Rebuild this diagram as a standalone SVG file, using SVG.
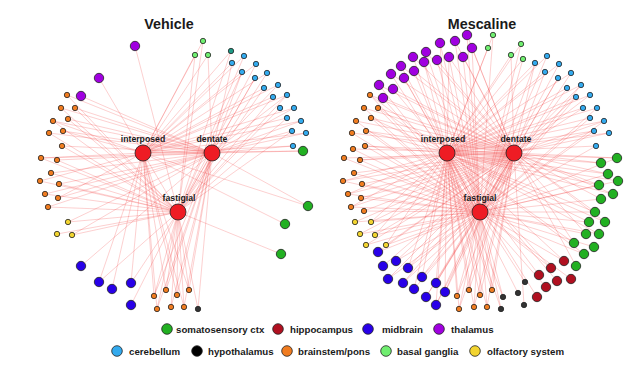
<svg xmlns="http://www.w3.org/2000/svg" width="638" height="377" viewBox="0 0 638 377">
<style>
text{font-family:"Liberation Sans",Arial,sans-serif;font-weight:bold;fill:#1a1a1a}
.title{font-size:14.3px;text-anchor:middle}
.hl{font-size:8.7px;text-anchor:middle}
.lg{font-size:9.7px}
#edges path{stroke:#f03030;stroke-opacity:0.33;stroke-width:0.7;fill:none}
circle{stroke:#222;stroke-width:0.8}
.hub{fill:#ee1c24}
.th{fill:#a000e0}
.bg{fill:#70ee70}
.cb{fill:#33aaee}
.tl{fill:#1e9a86}
.ss{fill:#22b022}
.hc{fill:#b01020}
.mb{fill:#2800e8}
.bp{fill:#f07c20}
.ol{fill:#f2d430}
.hy{fill:#333}
</style>
<rect width="638" height="377" fill="#fff"/>
<text class="title" x="169" y="29">Vehicle</text>
<text class="title" x="482" y="29">Mescaline</text>
<g id="edges">
<g id="v-edges-hubs">
<path d="M143 153L212 153"/><path d="M143 153L178 212"/><path d="M212 153L178 212"/>
</g>
<g id="v-edges-interposed">
<path d="M143 153L99 78"/><path d="M143 153L203 41"/><path d="M143 153L195 55"/><path d="M143 153L208 55"/><path d="M143 153L231 51"/><path d="M143 153L244 56"/><path d="M143 153L232 63"/><path d="M143 153L256 64"/><path d="M143 153L242 72"/><path d="M143 153L267 73"/><path d="M143 153L278 85"/><path d="M143 153L264 88"/><path d="M143 153L287 95"/><path d="M143 153L273 97"/><path d="M143 153L294 108"/><path d="M143 153L301 121"/><path d="M143 153L287 118"/><path d="M143 153L306 133"/><path d="M143 153L293 146"/><path d="M143 153L303 151"/><path d="M143 153L308 206"/><path d="M143 153L285 224"/><path d="M143 153L53 121"/><path d="M143 153L63 131"/><path d="M143 153L41 158"/><path d="M143 153L40 181"/><path d="M143 153L58 198"/><path d="M143 153L99 282"/><path d="M143 153L112 289"/><path d="M143 153L131 283"/><path d="M143 153L154 296"/><path d="M143 153L166 290"/><path d="M143 153L177 295"/><path d="M143 153L189 290"/><path d="M143 153L157 309"/><path d="M143 153L184 307"/>
</g>
<g id="v-edges-dentate">
<path d="M212 153L81 96"/><path d="M212 153L208 55"/><path d="M212 153L232 63"/><path d="M212 153L242 72"/><path d="M212 153L255 78"/><path d="M212 153L278 85"/><path d="M212 153L287 95"/><path d="M212 153L294 108"/><path d="M212 153L301 121"/><path d="M212 153L306 133"/><path d="M212 153L292 131"/><path d="M212 153L293 146"/><path d="M212 153L303 151"/><path d="M212 153L308 206"/><path d="M212 153L67 95"/><path d="M212 153L61 108"/><path d="M212 153L75 108"/><path d="M212 153L53 121"/><path d="M212 153L68 119"/><path d="M212 153L49 133"/><path d="M212 153L63 131"/><path d="M212 153L62 146"/><path d="M212 153L41 158"/><path d="M212 153L57 160"/><path d="M212 153L51 173"/><path d="M212 153L59 184"/><path d="M212 153L45 194"/><path d="M212 153L58 198"/><path d="M212 153L48 207"/><path d="M212 153L68 222"/><path d="M212 153L72 235"/><path d="M212 153L81 266"/><path d="M212 153L154 296"/><path d="M212 153L166 290"/><path d="M212 153L177 295"/><path d="M212 153L189 290"/><path d="M212 153L157 309"/><path d="M212 153L171 307"/><path d="M212 153L184 307"/><path d="M212 153L198 309"/>
</g>
<g id="v-edges-fastigial">
<path d="M178 212L135 46"/><path d="M178 212L203 41"/><path d="M178 212L195 55"/><path d="M178 212L231 51"/><path d="M178 212L244 56"/><path d="M178 212L256 64"/><path d="M178 212L242 72"/><path d="M178 212L267 73"/><path d="M178 212L255 78"/><path d="M178 212L264 88"/><path d="M178 212L287 95"/><path d="M178 212L273 97"/><path d="M178 212L280 108"/><path d="M178 212L287 118"/><path d="M178 212L292 131"/><path d="M178 212L281 254"/><path d="M178 212L67 95"/><path d="M178 212L61 108"/><path d="M178 212L75 108"/><path d="M178 212L53 121"/><path d="M178 212L68 119"/><path d="M178 212L49 133"/><path d="M178 212L62 146"/><path d="M178 212L41 158"/><path d="M178 212L57 160"/><path d="M178 212L51 173"/><path d="M178 212L40 181"/><path d="M178 212L59 184"/><path d="M178 212L45 194"/><path d="M178 212L48 207"/><path d="M178 212L68 222"/><path d="M178 212L57 234"/><path d="M178 212L72 235"/><path d="M178 212L99 282"/><path d="M178 212L131 283"/><path d="M178 212L131 305"/><path d="M178 212L154 296"/><path d="M178 212L166 290"/><path d="M178 212L177 295"/><path d="M178 212L189 290"/><path d="M178 212L157 309"/><path d="M178 212L171 307"/><path d="M178 212L184 307"/><path d="M178 212L198 309"/>
</g>
<g id="m-edges-hubs">
<path d="M447 153L514 153"/><path d="M447 153L480 212"/><path d="M514 153L480 212"/>
</g>
<g id="m-edges-interposed">
<path d="M447 153L440 43"/><path d="M447 153L413 57"/><path d="M447 153L449 57"/><path d="M447 153L424 62"/><path d="M447 153L414 71"/><path d="M447 153L404 78"/><path d="M447 153L393 89"/><path d="M447 153L493 35"/><path d="M447 153L488 48"/><path d="M447 153L521 44"/><path d="M447 153L511 55"/><path d="M447 153L523 59"/><path d="M447 153L547 56"/><path d="M447 153L535 63"/><path d="M447 153L559 64"/><path d="M447 153L545 72"/><path d="M447 153L571 73"/><path d="M447 153L581 85"/><path d="M447 153L567 88"/><path d="M447 153L590 95"/><path d="M447 153L576 97"/><path d="M447 153L597 108"/><path d="M447 153L583 108"/><path d="M447 153L604 121"/><path d="M447 153L590 118"/><path d="M447 153L609 133"/><path d="M447 153L594 131"/><path d="M447 153L596 146"/><path d="M447 153L617 158"/><path d="M447 153L601 163"/><path d="M447 153L608 174"/><path d="M447 153L618 181"/><path d="M447 153L599 185"/><path d="M447 153L613 194"/><path d="M447 153L595 212"/><path d="M447 153L589 222"/><path d="M447 153L605 222"/><path d="M447 153L599 234"/><path d="M447 153L574 243"/><path d="M447 153L584 254"/><path d="M447 153L564 261"/><path d="M447 153L551 268"/><path d="M447 153L539 275"/><path d="M447 153L557 281"/><path d="M447 153L537 297"/><path d="M447 153L518 293"/><path d="M447 153L503 297"/><path d="M447 153L501 309"/><path d="M447 153L457 296"/><path d="M447 153L469 290"/><path d="M447 153L480 295"/><path d="M447 153L492 290"/><path d="M447 153L459 309"/><path d="M447 153L474 307"/><path d="M447 153L487 307"/><path d="M447 153L408 268"/><path d="M447 153L422 277"/><path d="M447 153L436 283"/><path d="M447 153L414 289"/><path d="M447 153L445 292"/><path d="M447 153L436 305"/><path d="M447 153L371 222"/><path d="M447 153L375 235"/><path d="M447 153L386 245"/><path d="M447 153L370 95"/><path d="M447 153L378 108"/><path d="M447 153L371 118"/><path d="M447 153L366 131"/><path d="M447 153L365 146"/><path d="M447 153L360 160"/><path d="M447 153L343 181"/><path d="M447 153L348 194"/><path d="M447 153L351 207"/>
</g>
<g id="m-edges-dentate">
<path d="M514 153L467 35"/><path d="M514 153L455 41"/><path d="M514 153L472 48"/><path d="M514 153L426 52"/><path d="M514 153L413 57"/><path d="M514 153L463 57"/><path d="M514 153L449 57"/><path d="M514 153L437 60"/><path d="M514 153L401 66"/><path d="M514 153L414 71"/><path d="M514 153L391 74"/><path d="M514 153L379 85"/><path d="M514 153L393 89"/><path d="M514 153L383 98"/><path d="M514 153L511 55"/><path d="M514 153L535 63"/><path d="M514 153L545 72"/><path d="M514 153L558 78"/><path d="M514 153L581 85"/><path d="M514 153L590 95"/><path d="M514 153L576 97"/><path d="M514 153L583 108"/><path d="M514 153L604 121"/><path d="M514 153L609 133"/><path d="M514 153L594 131"/><path d="M514 153L617 158"/><path d="M514 153L601 163"/><path d="M514 153L608 174"/><path d="M514 153L599 185"/><path d="M514 153L613 194"/><path d="M514 153L601 199"/><path d="M514 153L595 212"/><path d="M514 153L605 222"/><path d="M514 153L586 234"/><path d="M514 153L574 243"/><path d="M514 153L576 266"/><path d="M514 153L524 305"/><path d="M514 153L457 296"/><path d="M514 153L469 290"/><path d="M514 153L480 295"/><path d="M514 153L492 290"/><path d="M514 153L459 309"/><path d="M514 153L474 307"/><path d="M514 153L487 307"/><path d="M514 153L378 252"/><path d="M514 153L396 261"/><path d="M514 153L383 266"/><path d="M514 153L408 268"/><path d="M514 153L388 279"/><path d="M514 153L422 277"/><path d="M514 153L403 283"/><path d="M514 153L436 283"/><path d="M514 153L445 292"/><path d="M514 153L426 297"/><path d="M514 153L436 305"/><path d="M514 153L355 222"/><path d="M514 153L371 222"/><path d="M514 153L360 234"/><path d="M514 153L375 235"/><path d="M514 153L366 245"/><path d="M514 153L386 245"/><path d="M514 153L370 95"/><path d="M514 153L364 108"/><path d="M514 153L378 108"/><path d="M514 153L356 121"/><path d="M514 153L371 118"/><path d="M514 153L352 133"/><path d="M514 153L366 131"/><path d="M514 153L353 149"/><path d="M514 153L365 146"/><path d="M514 153L344 158"/><path d="M514 153L360 160"/><path d="M514 153L354 173"/><path d="M514 153L343 181"/><path d="M514 153L362 184"/><path d="M514 153L348 194"/><path d="M514 153L361 198"/><path d="M514 153L351 207"/><path d="M514 153L364 211"/>
</g>
<g id="m-edges-fastigial">
<path d="M480 212L467 35"/><path d="M480 212L455 41"/><path d="M480 212L440 43"/><path d="M480 212L472 48"/><path d="M480 212L426 52"/><path d="M480 212L463 57"/><path d="M480 212L449 57"/><path d="M480 212L437 60"/><path d="M480 212L424 62"/><path d="M480 212L401 66"/><path d="M480 212L391 74"/><path d="M480 212L404 78"/><path d="M480 212L379 85"/><path d="M480 212L383 98"/><path d="M480 212L493 35"/><path d="M480 212L521 44"/><path d="M480 212L523 59"/><path d="M480 212L547 56"/><path d="M480 212L535 63"/><path d="M480 212L559 64"/><path d="M480 212L571 73"/><path d="M480 212L558 78"/><path d="M480 212L581 85"/><path d="M480 212L567 88"/><path d="M480 212L576 97"/><path d="M480 212L597 108"/><path d="M480 212L604 121"/><path d="M480 212L590 118"/><path d="M480 212L594 131"/><path d="M480 212L596 146"/><path d="M480 212L617 158"/><path d="M480 212L608 174"/><path d="M480 212L618 181"/><path d="M480 212L599 185"/><path d="M480 212L601 199"/><path d="M480 212L595 212"/><path d="M480 212L589 222"/><path d="M480 212L586 234"/><path d="M480 212L599 234"/><path d="M480 212L594 247"/><path d="M480 212L584 254"/><path d="M480 212L564 261"/><path d="M480 212L551 268"/><path d="M480 212L571 279"/><path d="M480 212L546 287"/><path d="M480 212L525 282"/><path d="M480 212L503 297"/><path d="M480 212L501 309"/><path d="M480 212L457 296"/><path d="M480 212L469 290"/><path d="M480 212L480 295"/><path d="M480 212L492 290"/><path d="M480 212L459 309"/><path d="M480 212L474 307"/><path d="M480 212L487 307"/><path d="M480 212L378 252"/><path d="M480 212L396 261"/><path d="M480 212L408 268"/><path d="M480 212L388 279"/><path d="M480 212L422 277"/><path d="M480 212L403 283"/><path d="M480 212L436 283"/><path d="M480 212L414 289"/><path d="M480 212L445 292"/><path d="M480 212L426 297"/><path d="M480 212L436 305"/><path d="M480 212L355 222"/><path d="M480 212L371 222"/><path d="M480 212L360 234"/><path d="M480 212L375 235"/><path d="M480 212L366 245"/><path d="M480 212L386 245"/><path d="M480 212L370 95"/><path d="M480 212L364 108"/><path d="M480 212L378 108"/><path d="M480 212L356 121"/><path d="M480 212L371 118"/><path d="M480 212L352 133"/><path d="M480 212L366 131"/><path d="M480 212L353 149"/><path d="M480 212L365 146"/><path d="M480 212L344 158"/><path d="M480 212L360 160"/><path d="M480 212L354 173"/><path d="M480 212L343 181"/><path d="M480 212L362 184"/><path d="M480 212L348 194"/><path d="M480 212L361 198"/><path d="M480 212L351 207"/><path d="M480 212L364 211"/>
</g>
</g>
<g id="vehicle-nodes">
<g id="v-th1"><circle class="th" cx="135" cy="46" r="4.7"/></g>
<g id="v-th2"><circle class="th" cx="99" cy="78" r="4.7"/></g>
<g id="v-th3"><circle class="th" cx="81" cy="96" r="4.7"/></g>
<g id="v-bg1"><circle class="bg" cx="203" cy="41" r="2.7"/></g>
<g id="v-bg2"><circle class="bg" cx="195" cy="55" r="2.7"/></g>
<g id="v-bg3"><circle class="bg" cx="208" cy="55" r="2.7"/></g>
<g id="v-cb0"><circle class="tl" cx="231" cy="51" r="2.7"/></g>
<g id="v-cb1"><circle class="cb" cx="244" cy="56" r="2.7"/></g>
<g id="v-cb2"><circle class="cb" cx="232" cy="63" r="2.7"/></g>
<g id="v-cb3"><circle class="cb" cx="256" cy="64" r="2.7"/></g>
<g id="v-cb4"><circle class="cb" cx="242" cy="72" r="2.7"/></g>
<g id="v-cb5"><circle class="cb" cx="267" cy="73" r="2.7"/></g>
<g id="v-cb6"><circle class="cb" cx="255" cy="78" r="2.7"/></g>
<g id="v-cb7"><circle class="cb" cx="278" cy="85" r="2.7"/></g>
<g id="v-cb8"><circle class="cb" cx="264" cy="88" r="2.7"/></g>
<g id="v-cb9"><circle class="cb" cx="287" cy="95" r="2.7"/></g>
<g id="v-cb10"><circle class="cb" cx="273" cy="97" r="2.7"/></g>
<g id="v-cb11"><circle class="cb" cx="294" cy="108" r="2.7"/></g>
<g id="v-cb12"><circle class="cb" cx="280" cy="108" r="2.7"/></g>
<g id="v-cb13"><circle class="cb" cx="301" cy="121" r="2.7"/></g>
<g id="v-cb14"><circle class="cb" cx="287" cy="118" r="2.7"/></g>
<g id="v-cb15"><circle class="cb" cx="306" cy="133" r="2.7"/></g>
<g id="v-cb16"><circle class="cb" cx="292" cy="131" r="2.7"/></g>
<g id="v-cb17"><circle class="cb" cx="293" cy="146" r="2.7"/></g>
<g id="v-ss1"><circle class="ss" cx="303" cy="151" r="4.7"/></g>
<g id="v-ss2"><circle class="ss" cx="308" cy="206" r="4.7"/></g>
<g id="v-ss3"><circle class="ss" cx="285" cy="224" r="4.7"/></g>
<g id="v-ss4"><circle class="ss" cx="281" cy="254" r="4.7"/></g>
<g id="v-bp1"><circle class="bp" cx="67" cy="95" r="2.7"/></g>
<g id="v-bp2"><circle class="bp" cx="61" cy="108" r="2.7"/></g>
<g id="v-bp3"><circle class="bp" cx="75" cy="108" r="2.7"/></g>
<g id="v-bp4"><circle class="bp" cx="53" cy="121" r="2.7"/></g>
<g id="v-bp5"><circle class="bp" cx="68" cy="119" r="2.7"/></g>
<g id="v-bp6"><circle class="bp" cx="49" cy="133" r="2.7"/></g>
<g id="v-bp7"><circle class="bp" cx="63" cy="131" r="2.7"/></g>
<g id="v-bp8"><circle class="bp" cx="62" cy="146" r="2.7"/></g>
<g id="v-bp9"><circle class="bp" cx="41" cy="158" r="2.7"/></g>
<g id="v-bp10"><circle class="bp" cx="57" cy="160" r="2.7"/></g>
<g id="v-bp11"><circle class="bp" cx="51" cy="173" r="2.7"/></g>
<g id="v-bp12"><circle class="bp" cx="40" cy="181" r="2.7"/></g>
<g id="v-bp13"><circle class="bp" cx="59" cy="184" r="2.7"/></g>
<g id="v-bp14"><circle class="bp" cx="45" cy="194" r="2.7"/></g>
<g id="v-bp15"><circle class="bp" cx="58" cy="198" r="2.7"/></g>
<g id="v-bp16"><circle class="bp" cx="48" cy="207" r="2.7"/></g>
<g id="v-ol1"><circle class="ol" cx="68" cy="222" r="2.7"/></g>
<g id="v-ol2"><circle class="ol" cx="57" cy="234" r="2.7"/></g>
<g id="v-ol3"><circle class="ol" cx="72" cy="235" r="2.7"/></g>
<g id="v-mb1"><circle class="mb" cx="81" cy="266" r="4.7"/></g>
<g id="v-mb2"><circle class="mb" cx="99" cy="282" r="4.7"/></g>
<g id="v-mb3"><circle class="mb" cx="112" cy="289" r="4.7"/></g>
<g id="v-mb4"><circle class="mb" cx="131" cy="283" r="4.7"/></g>
<g id="v-mb5"><circle class="mb" cx="131" cy="305" r="4.7"/></g>
<g id="v-bp17"><circle class="bp" cx="154" cy="296" r="2.7"/></g>
<g id="v-bp18"><circle class="bp" cx="166" cy="290" r="2.7"/></g>
<g id="v-bp19"><circle class="bp" cx="177" cy="295" r="2.7"/></g>
<g id="v-bp20"><circle class="bp" cx="189" cy="290" r="2.7"/></g>
<g id="v-bp21"><circle class="bp" cx="157" cy="309" r="2.7"/></g>
<g id="v-bp22"><circle class="bp" cx="171" cy="307" r="2.7"/></g>
<g id="v-bp23"><circle class="bp" cx="184" cy="307" r="2.7"/></g>
<g id="v-hy1"><circle class="hy" cx="198" cy="309" r="2.7"/></g>
<g id="v-interposed"><circle class="hub" cx="143" cy="153" r="8"/><text class="hl" x="143" y="142">interposed</text></g>
<g id="v-dentate"><circle class="hub" cx="212" cy="153" r="8"/><text class="hl" x="212" y="142">dentate</text></g>
<g id="v-fastigial"><circle class="hub" cx="178" cy="212" r="8"/><text class="hl" x="179" y="201">fastigial</text></g>
</g>
<g id="mescaline-nodes">
<g id="m-th1"><circle class="th" cx="467" cy="35" r="4.7"/></g>
<g id="m-th2"><circle class="th" cx="455" cy="41" r="4.7"/></g>
<g id="m-th3"><circle class="th" cx="440" cy="43" r="4.7"/></g>
<g id="m-th4"><circle class="th" cx="472" cy="48" r="4.7"/></g>
<g id="m-th5"><circle class="th" cx="426" cy="52" r="4.7"/></g>
<g id="m-th6"><circle class="th" cx="413" cy="57" r="4.7"/></g>
<g id="m-th7"><circle class="th" cx="463" cy="57" r="4.7"/></g>
<g id="m-th8"><circle class="th" cx="449" cy="57" r="4.7"/></g>
<g id="m-th9"><circle class="th" cx="437" cy="60" r="4.7"/></g>
<g id="m-th10"><circle class="th" cx="424" cy="62" r="4.7"/></g>
<g id="m-th11"><circle class="th" cx="401" cy="66" r="4.7"/></g>
<g id="m-th12"><circle class="th" cx="414" cy="71" r="4.7"/></g>
<g id="m-th13"><circle class="th" cx="391" cy="74" r="4.7"/></g>
<g id="m-th14"><circle class="th" cx="404" cy="78" r="4.7"/></g>
<g id="m-th15"><circle class="th" cx="379" cy="85" r="4.7"/></g>
<g id="m-th16"><circle class="th" cx="393" cy="89" r="4.7"/></g>
<g id="m-th17"><circle class="th" cx="383" cy="98" r="4.7"/></g>
<g id="m-bg1"><circle class="bg" cx="493" cy="35" r="2.7"/></g>
<g id="m-bg2"><circle class="bg" cx="488" cy="48" r="2.7"/></g>
<g id="m-bg3"><circle class="bg" cx="521" cy="44" r="2.7"/></g>
<g id="m-bg4"><circle class="bg" cx="511" cy="55" r="2.7"/></g>
<g id="m-bg5"><circle class="bg" cx="523" cy="59" r="2.7"/></g>
<g id="m-cb1"><circle class="cb" cx="547" cy="56" r="2.7"/></g>
<g id="m-cb2"><circle class="cb" cx="535" cy="63" r="2.7"/></g>
<g id="m-cb3"><circle class="cb" cx="559" cy="64" r="2.7"/></g>
<g id="m-cb4"><circle class="cb" cx="545" cy="72" r="2.7"/></g>
<g id="m-cb5"><circle class="cb" cx="571" cy="73" r="2.7"/></g>
<g id="m-cb6"><circle class="cb" cx="558" cy="78" r="2.7"/></g>
<g id="m-cb7"><circle class="cb" cx="581" cy="85" r="2.7"/></g>
<g id="m-cb8"><circle class="cb" cx="567" cy="88" r="2.7"/></g>
<g id="m-cb9"><circle class="cb" cx="590" cy="95" r="2.7"/></g>
<g id="m-cb10"><circle class="cb" cx="576" cy="97" r="2.7"/></g>
<g id="m-cb11"><circle class="cb" cx="597" cy="108" r="2.7"/></g>
<g id="m-cb12"><circle class="cb" cx="583" cy="108" r="2.7"/></g>
<g id="m-cb13"><circle class="cb" cx="604" cy="121" r="2.7"/></g>
<g id="m-cb14"><circle class="cb" cx="590" cy="118" r="2.7"/></g>
<g id="m-cb15"><circle class="cb" cx="609" cy="133" r="2.7"/></g>
<g id="m-cb16"><circle class="cb" cx="594" cy="131" r="2.7"/></g>
<g id="m-cb17"><circle class="cb" cx="596" cy="146" r="2.7"/></g>
<g id="m-ss1"><circle class="ss" cx="617" cy="158" r="4.7"/></g>
<g id="m-ss2"><circle class="ss" cx="601" cy="163" r="4.7"/></g>
<g id="m-ss3"><circle class="ss" cx="608" cy="174" r="4.7"/></g>
<g id="m-ss4"><circle class="ss" cx="618" cy="181" r="4.7"/></g>
<g id="m-ss5"><circle class="ss" cx="599" cy="185" r="4.7"/></g>
<g id="m-ss6"><circle class="ss" cx="613" cy="194" r="4.7"/></g>
<g id="m-ss7"><circle class="ss" cx="601" cy="199" r="4.7"/></g>
<g id="m-ss8"><circle class="ss" cx="595" cy="212" r="4.7"/></g>
<g id="m-ss9"><circle class="ss" cx="589" cy="222" r="4.7"/></g>
<g id="m-ss10"><circle class="ss" cx="605" cy="222" r="4.7"/></g>
<g id="m-ss11"><circle class="ss" cx="586" cy="234" r="4.7"/></g>
<g id="m-ss12"><circle class="ss" cx="599" cy="234" r="4.7"/></g>
<g id="m-ss13"><circle class="ss" cx="574" cy="243" r="4.7"/></g>
<g id="m-ss14"><circle class="ss" cx="594" cy="247" r="4.7"/></g>
<g id="m-ss15"><circle class="ss" cx="584" cy="254" r="4.7"/></g>
<g id="m-ss16"><circle class="ss" cx="576" cy="266" r="4.7"/></g>
<g id="m-hc1"><circle class="hc" cx="564" cy="261" r="4.7"/></g>
<g id="m-hc2"><circle class="hc" cx="551" cy="268" r="4.7"/></g>
<g id="m-hc3"><circle class="hc" cx="539" cy="275" r="4.7"/></g>
<g id="m-hc4"><circle class="hc" cx="571" cy="279" r="4.7"/></g>
<g id="m-hc5"><circle class="hc" cx="557" cy="281" r="4.7"/></g>
<g id="m-hc6"><circle class="hc" cx="546" cy="287" r="4.7"/></g>
<g id="m-hc7"><circle class="hc" cx="537" cy="297" r="4.7"/></g>
<g id="m-hy1"><circle class="hy" cx="525" cy="282" r="2.7"/></g>
<g id="m-hy2"><circle class="hy" cx="518" cy="293" r="2.7"/></g>
<g id="m-hy3"><circle class="hy" cx="503" cy="297" r="2.7"/></g>
<g id="m-hy4"><circle class="hy" cx="524" cy="305" r="2.7"/></g>
<g id="m-hy5"><circle class="hy" cx="501" cy="309" r="2.7"/></g>
<g id="m-bp19"><circle class="bp" cx="457" cy="296" r="2.7"/></g>
<g id="m-bp20"><circle class="bp" cx="469" cy="290" r="2.7"/></g>
<g id="m-bp21"><circle class="bp" cx="480" cy="295" r="2.7"/></g>
<g id="m-bp22"><circle class="bp" cx="492" cy="290" r="2.7"/></g>
<g id="m-bp23"><circle class="bp" cx="459" cy="309" r="2.7"/></g>
<g id="m-bp24"><circle class="bp" cx="474" cy="307" r="2.7"/></g>
<g id="m-bp25"><circle class="bp" cx="487" cy="307" r="2.7"/></g>
<g id="m-mb1"><circle class="mb" cx="378" cy="252" r="4.7"/></g>
<g id="m-mb2"><circle class="mb" cx="396" cy="261" r="4.7"/></g>
<g id="m-mb3"><circle class="mb" cx="383" cy="266" r="4.7"/></g>
<g id="m-mb4"><circle class="mb" cx="408" cy="268" r="4.7"/></g>
<g id="m-mb5"><circle class="mb" cx="388" cy="279" r="4.7"/></g>
<g id="m-mb6"><circle class="mb" cx="422" cy="277" r="4.7"/></g>
<g id="m-mb7"><circle class="mb" cx="403" cy="283" r="4.7"/></g>
<g id="m-mb8"><circle class="mb" cx="436" cy="283" r="4.7"/></g>
<g id="m-mb9"><circle class="mb" cx="414" cy="289" r="4.7"/></g>
<g id="m-mb10"><circle class="mb" cx="445" cy="292" r="4.7"/></g>
<g id="m-mb11"><circle class="mb" cx="426" cy="297" r="4.7"/></g>
<g id="m-mb12"><circle class="mb" cx="436" cy="305" r="4.7"/></g>
<g id="m-ol1"><circle class="ol" cx="355" cy="222" r="2.7"/></g>
<g id="m-ol2"><circle class="ol" cx="371" cy="222" r="2.7"/></g>
<g id="m-ol3"><circle class="ol" cx="360" cy="234" r="2.7"/></g>
<g id="m-ol4"><circle class="ol" cx="375" cy="235" r="2.7"/></g>
<g id="m-ol5"><circle class="ol" cx="366" cy="245" r="2.7"/></g>
<g id="m-ol6"><circle class="ol" cx="386" cy="245" r="2.7"/></g>
<g id="m-bp1"><circle class="bp" cx="370" cy="95" r="2.7"/></g>
<g id="m-bp2"><circle class="bp" cx="364" cy="108" r="2.7"/></g>
<g id="m-bp3"><circle class="bp" cx="378" cy="108" r="2.7"/></g>
<g id="m-bp4"><circle class="bp" cx="356" cy="121" r="2.7"/></g>
<g id="m-bp5"><circle class="bp" cx="371" cy="118" r="2.7"/></g>
<g id="m-bp6"><circle class="bp" cx="352" cy="133" r="2.7"/></g>
<g id="m-bp7"><circle class="bp" cx="366" cy="131" r="2.7"/></g>
<g id="m-bp8"><circle class="bp" cx="353" cy="149" r="2.7"/></g>
<g id="m-bp9"><circle class="bp" cx="365" cy="146" r="2.7"/></g>
<g id="m-bp10"><circle class="bp" cx="344" cy="158" r="2.7"/></g>
<g id="m-bp11"><circle class="bp" cx="360" cy="160" r="2.7"/></g>
<g id="m-bp12"><circle class="bp" cx="354" cy="173" r="2.7"/></g>
<g id="m-bp13"><circle class="bp" cx="343" cy="181" r="2.7"/></g>
<g id="m-bp14"><circle class="bp" cx="362" cy="184" r="2.7"/></g>
<g id="m-bp15"><circle class="bp" cx="348" cy="194" r="2.7"/></g>
<g id="m-bp16"><circle class="bp" cx="361" cy="198" r="2.7"/></g>
<g id="m-bp17"><circle class="bp" cx="351" cy="207" r="2.7"/></g>
<g id="m-bp18"><circle class="bp" cx="364" cy="211" r="2.7"/></g>
<g id="m-interposed"><circle class="hub" cx="447" cy="153" r="8"/><text class="hl" x="443" y="142">interposed</text></g>
<g id="m-dentate"><circle class="hub" cx="514" cy="153" r="8"/><text class="hl" x="516" y="142">dentate</text></g>
<g id="m-fastigial"><circle class="hub" cx="480" cy="212" r="8"/><text class="hl" x="480" y="201">fastigial</text></g>
</g>
<g id="legend">
<g id="lg-ss"><circle class="ss" cx="167" cy="329" r="5.3"/><text class="lg" x="176" y="332.5">somatosensory ctx</text></g>
<g id="lg-hc"><circle class="hc" cx="278" cy="329" r="5.3"/><text class="lg" x="290" y="332.5">hippocampus</text></g>
<g id="lg-mb"><circle class="mb" cx="368" cy="329" r="5.3"/><text class="lg" x="382" y="332.5">midbrain</text></g>
<g id="lg-th"><circle class="th" cx="439" cy="329" r="5.3"/><text class="lg" x="451" y="332.5">thalamus</text></g>
<g id="lg-cb"><circle class="cb" cx="117" cy="351" r="5.3"/><text class="lg" x="129" y="354.5">cerebellum</text></g>
<g id="lg-hy"><circle fill="#000" cx="197" cy="351" r="5.3"/><text class="lg" x="208" y="354.5">hypothalamus</text></g>
<g id="lg-bp"><circle class="bp" cx="287" cy="351" r="5.3"/><text class="lg" x="298" y="354.5">brainstem/pons</text></g>
<g id="lg-bg"><circle class="bg" cx="386" cy="351" r="5.3"/><text class="lg" x="397" y="354.5">basal ganglia</text></g>
<g id="lg-ol"><circle class="ol" cx="475" cy="351" r="5.3"/><text class="lg" x="487" y="354.5">olfactory system</text></g>
</g>
</svg>
